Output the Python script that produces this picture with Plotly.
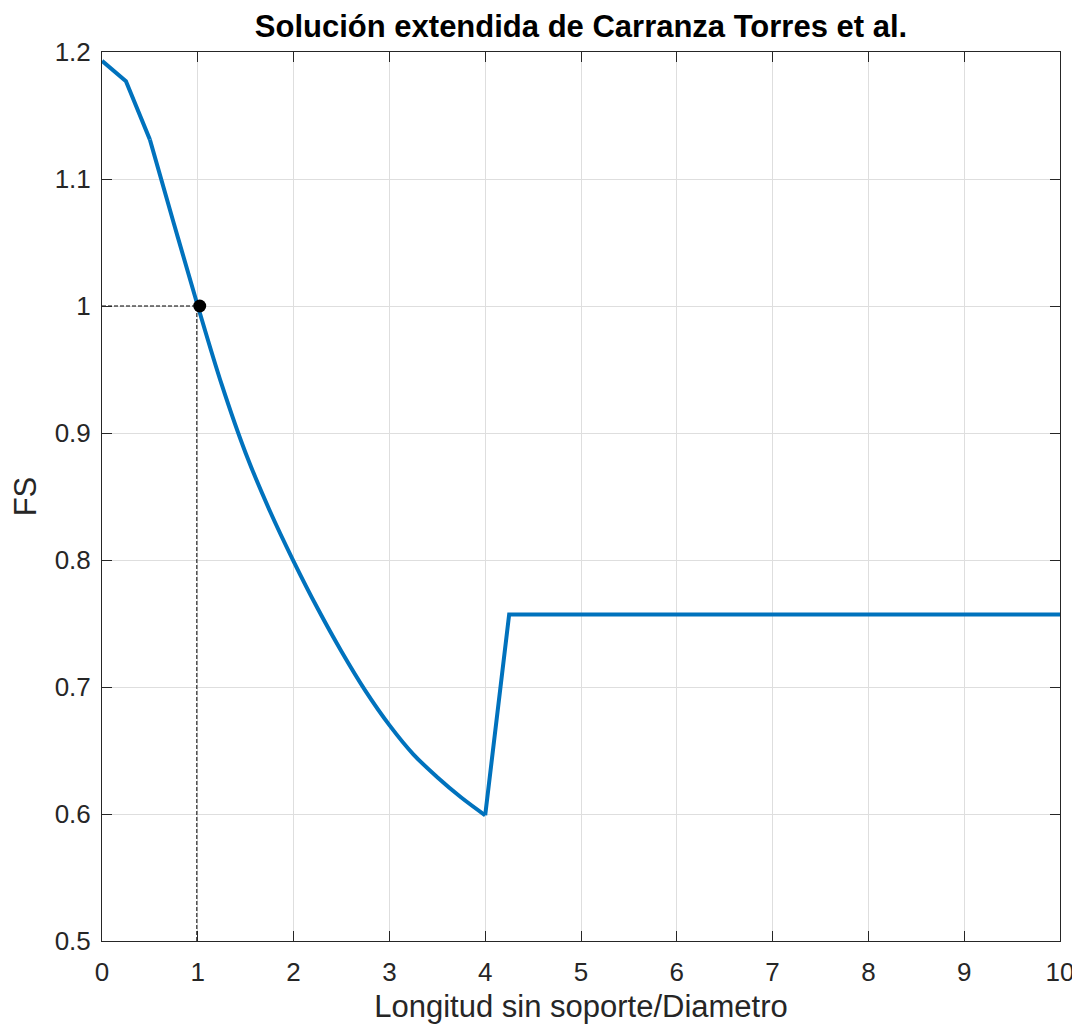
import plotly.graph_objects as go

# Data
x_steep = [0, 0.25, 0.5]
fs_steep = [1.193, 1.177, 1.131]
x_curve = [0.5, 0.75, 1.0, 1.25, 1.5, 1.75, 2.0, 2.25, 2.5, 2.75, 3.0,
           3.25, 3.5, 3.75, 4.0]
fs_curve = [1.131, 1.065, 1.000, 0.938, 0.884, 0.839, 0.799, 0.762, 0.728,
            0.697, 0.670, 0.647, 0.629, 0.613, 0.599]
x_jump = [4.0, 4.25, 10]
fs_jump = [0.599, 0.757, 0.757]
point_x = [1.02]
point_y = [1.0]
guide_h_x = [0, 1.0]
guide_h_y = [1.0, 1.0]
guide_v_x = [0.99, 0.99]
guide_v_y = [0.5, 1.0]

x_ticks = list(range(0, 11))
y_ticks = [0.5, 0.6, 0.7, 0.8, 0.9, 1.0, 1.1, 1.2]
y_tick_text = ["0.5", "0.6", "0.7", "0.8", "0.9", "1", "1.1", "1.2"]

axis_color = "#262626"
blue = "#0072BD"
font_family = "Liberation Sans, Arial, sans-serif"

fig = go.Figure()
fig.add_trace(go.Scatter(x=guide_h_x, y=guide_h_y, mode="lines",
                         line=dict(color="black", width=1, dash="4px,2px"), showlegend=False))
fig.add_trace(go.Scatter(x=guide_v_x, y=guide_v_y, mode="lines",
                         line=dict(color="black", width=1, dash="4px,2px"), showlegend=False))
fig.add_trace(go.Scatter(x=x_steep, y=fs_steep, mode="lines",
                         line=dict(color=blue, width=4), showlegend=False))
fig.add_trace(go.Scatter(x=x_curve, y=fs_curve, mode="lines",
                         line=dict(color=blue, width=4, shape="spline", smoothing=1),
                         showlegend=False))
fig.add_trace(go.Scatter(x=x_jump, y=fs_jump, mode="lines",
                         line=dict(color=blue, width=4), showlegend=False))
fig.add_trace(go.Scatter(x=point_x, y=point_y, mode="markers",
                         marker=dict(color="black", size=13), showlegend=False))

fig.update_layout(
    width=1080, height=1030,
    paper_bgcolor="white", plot_bgcolor="white",
    margin=dict(l=94, r=28, t=44, b=97),
    font=dict(family=font_family, color=axis_color, size=26),
    title=dict(text="<b>Solución extendida de Carranza Torres et al.</b>",
               x=0.5, xref="paper", xanchor="center",
               y=0.9825, yref="container", yanchor="middle",
               font=dict(size=31, color="black", family=font_family)),
)
fig.update_xaxes(
    range=[0, 10], tickvals=x_ticks, ticktext=[str(v) for v in x_ticks],
    showgrid=True, gridcolor="#dedede", gridwidth=1,
    showline=True, linecolor=axis_color, linewidth=1, mirror="ticks",
    ticks="inside", ticklen=10, tickcolor=axis_color, zeroline=False,
    tickfont=dict(size=26, color=axis_color), ticklabelstandoff=8,
    automargin=False,
    title=dict(text="Longitud sin soporte/Diametro", font=dict(size=31, color=axis_color), standoff=9),
)
fig.update_yaxes(
    range=[0.5, 1.2], tickvals=y_ticks, ticktext=y_tick_text,
    showgrid=True, gridcolor="#dedede", gridwidth=1,
    showline=True, linecolor=axis_color, linewidth=1, mirror="ticks",
    ticks="inside", ticklen=10, tickcolor=axis_color, zeroline=False,
    tickfont=dict(size=26, color=axis_color), ticklabelstandoff=5,
    automargin=False,
    title=dict(text="FS", font=dict(size=31, color=axis_color), standoff=14),
)

fig.write_html("out.html")
